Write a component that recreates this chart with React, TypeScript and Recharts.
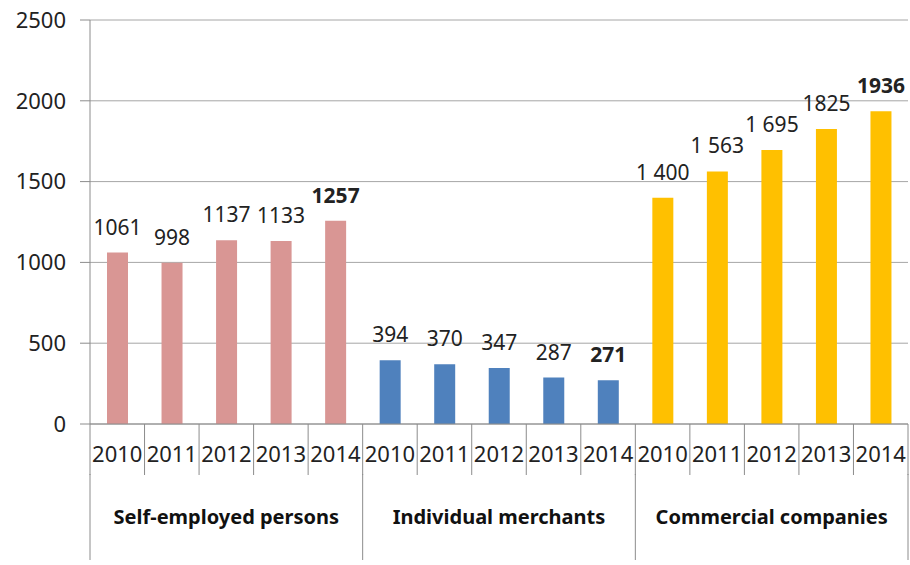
import { BarChart, Bar, XAxis, YAxis, CartesianGrid, Cell, LabelList } from "recharts";

const groups = ["Self-employed persons", "Individual merchants", "Commercial companies"];
const years = ["2010", "2011", "2012", "2013", "2014"];
const selfEmployed = [1061, 998, 1137, 1133, 1257];
const merchants = [394, 370, 347, 287, 271];
const companies = [1400, 1563, 1695, 1825, 1936];
const valueLabels = [
  "1061", "998", "1137", "1133", "1257",
  "394", "370", "347", "287", "271",
  "1 400", "1 563", "1 695", "1825", "1936",
];
const yTicks = [0, 500, 1000, 1500, 2000, 2500];
const groupColors = ["#d99694", "#4f81bd", "#ffc000"];

const W = 910;
const H = 565;
const PLOT_LEFT = 90;
const PLOT_RIGHT = 908;
const BAND = (PLOT_RIGHT - PLOT_LEFT) / 15;
const FONT = "'Noto Sans', sans-serif";

const data = [selfEmployed, merchants, companies].flatMap((vals, g) =>
  vals.map((v, i) => ({
    key: `${g}-${years[i]}`,
    year: years[i],
    group: groups[g],
    groupIdx: g,
    value: v,
    label: valueLabels[g * 5 + i],
    bold: i === years.length - 1,
  }))
);

function YearTick(props: any) {
  const { x, y, index } = props;
  const left = x - BAND / 2;
  return (
    <g>
      <line x1={left} x2={left} y1={y} y2={y + 51} stroke="#8c8c8c" />
      {index === data.length - 1 && (
        <line x1={x + BAND / 2} x2={x + BAND / 2} y1={y} y2={y + 51} stroke="#8c8c8c" />
      )}
      <text x={x} y={y + 29} textAnchor="middle" dominantBaseline="central" fontSize={22} fill="#222" fontFamily={FONT}>
        {data[index].year}
      </text>
    </g>
  );
}

function GroupTick(props: any) {
  const { x, y, index } = props;
  const pos = index % 5;
  return (
    <g>
      {pos === 0 && <line x1={x - BAND / 2} x2={x - BAND / 2} y1={y} y2={y + 86} stroke="#8c8c8c" />}
      {index === data.length - 1 && (
        <line x1={x + BAND / 2} x2={x + BAND / 2} y1={y} y2={y + 86} stroke="#8c8c8c" />
      )}
      {pos === 2 && (
        <text x={x} y={y + 42} textAnchor="middle" dominantBaseline="central" fontSize={20} fontWeight="bold" fill="#111" fontFamily={FONT}>
          {data[index].group}
        </text>
      )}
    </g>
  );
}

function ValueLabel(props: any) {
  const { x, y, width, index } = props;
  const d = data[index];
  return (
    <text x={x + width / 2} y={y - 18} textAnchor="middle" fontSize={21} fontWeight={d.bold ? "bold" : "normal"} fill="#222" fontFamily={FONT}>
      {d.label}
    </text>
  );
}

export default function App() {
  return (
    <div style={{ position: "absolute", left: 0, top: 0, width: W, height: H, background: "#fff" }}>
      <BarChart width={W} height={H} data={data} margin={{ top: 20, right: W - PLOT_RIGHT, bottom: 5, left: 0 }}>
        <CartesianGrid xAxisId="a1" vertical={false} horizontal stroke="#a6a6a6" />
        <XAxis
          xAxisId="a1"
          dataKey="key"
          height={50}
          interval={0}
          axisLine={{ stroke: "#8c8c8c" }}
          tickLine={false}
          tickSize={0}
          tickMargin={0}
          tick={<YearTick />}
        />
        <XAxis
          xAxisId="b2"
          dataKey="key"
          height={86}
          interval={0}
          axisLine={false}
          tickLine={false}
          tickSize={0}
          tickMargin={0}
          tick={<GroupTick />}
        />
        <YAxis
          width={PLOT_LEFT}
          domain={[0, 2500]}
          ticks={yTicks}
          interval={0}
          axisLine={{ stroke: "#8c8c8c" }}
          tickLine={{ stroke: "#8c8c8c" }}
          tickSize={10}
          tickMargin={14}
          tick={{ fontSize: 22, fill: "#222", fontFamily: FONT }}
        />
        <Bar xAxisId="a1" dataKey="value" barSize={21} isAnimationActive={false}>
          {data.map((d) => (
            <Cell key={d.key} fill={groupColors[d.groupIdx]} />
          ))}
          <LabelList dataKey="value" content={<ValueLabel />} />
        </Bar>
      </BarChart>
    </div>
  );
}
